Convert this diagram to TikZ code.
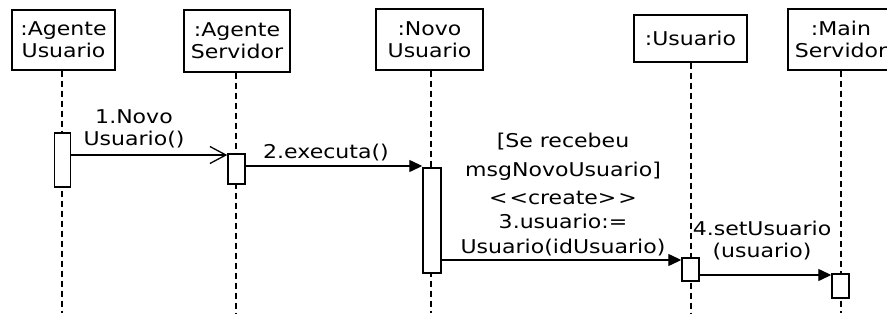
\documentclass[tikz,border=0pt]{standalone}
\usepackage{fontspec}
\setmainfont{DejaVu Sans}[FakeStretch=1.16]
\usetikzlibrary{arrows.meta}
\begin{document}
\begin{tikzpicture}[x=1pt,y=-1pt,
  every node/.style={font=\fontsize{19}{22}\selectfont, inner sep=0pt},
  obj/.style={draw, line width=1.4pt, fill=white, align=center},
  bar/.style={draw, line width=1.4pt, fill=white, minimum width=17pt},
  life/.style={line width=1.3pt, dash pattern=on 6pt off 4pt},
  sync/.style={line width=1.3pt, -{Triangle[length=13pt,width=12pt]}},
  async/.style={line width=1.3pt, -{Straight Barb[length=16pt,width=17pt,line width=1.3pt]}},
  lbl/.style={align=center}]
\useasboundingbox (0,0) rectangle (887,324);
\clip (0,0) rectangle (887,324);
\fill[white] (0,0) rectangle (887,324);
% objects
\node[obj, minimum width=103pt, minimum height=60pt] (o1) at (63.5,40) {:Agente\\Usuario};
\node[obj, minimum width=106pt, minimum height=62pt] (o2) at (237,41) {:Agente\\Servidor};
\node[obj, minimum width=107pt, minimum height=61pt] (o3) at (429.5,39.5) {:Novo\\Usuario};
\node[obj, minimum width=113pt, minimum height=47pt] (o4) at (690.5,38.5) {:Usuario};
\node[obj, minimum width=106pt, minimum height=61pt] (o5) at (841,39.5) {:Main\\Servidor};
% lifeline ends
\coordinate (e1) at (62,313);
\coordinate (e2) at (236,313);
\coordinate (e3) at (431,313);
\coordinate (e4) at (691,313);
\coordinate (e5) at (841,313);
\draw[life] (o1.south -| e1) -- (e1);
\draw[life] (o2.south -| e2) -- (e2);
\draw[life] (o3.south -| e3) -- (e3);
\draw[life] (o4.south -| e4) -- (e4);
\draw[life] (o5.south -| e5) -- (e5);
% activations
\node[bar, minimum width=16pt, minimum height=54pt] (a1) at (62.5,160) {};
\node[bar, minimum height=30pt] (a2) at (236.5,169) {};
\node[bar, minimum width=18pt, minimum height=105pt] (a3) at (432,220.5) {};
\node[bar, minimum height=23pt] (a4) at (690.5,269.5) {};
\node[bar, minimum height=24pt] (a5) at (840.5,286) {};
% messages
\draw[async] (a1.east |- 0,155) -- (a2.west |- 0,155);
\draw[sync] (a2.east |- 0,166) -- (a3.west |- 0,166);
\draw[sync] (a3.east |- 0,260) -- (a4.west |- 0,260);
\draw[sync] (a4.east |- 0,275) -- (a5.west |- 0,275);
% labels
\node[lbl] (l1) at (134,129) {1.Novo\\Usuario()};
\node[lbl] (l2) at (326,153) {2.executa()};
\node[lbl, anchor=south] (l3) at (563,256) {[Se recebeu\\[7pt]msgNovoUsuario]\\[6pt]<\kern2pt<create>\kern2pt>\\[2pt]3.usuario:=\\[3pt]Usuario(idUsuario)};
\node[lbl] (l4) at (762,241) {4.setUsuario\\(usuario)};
\end{tikzpicture}
\end{document}
